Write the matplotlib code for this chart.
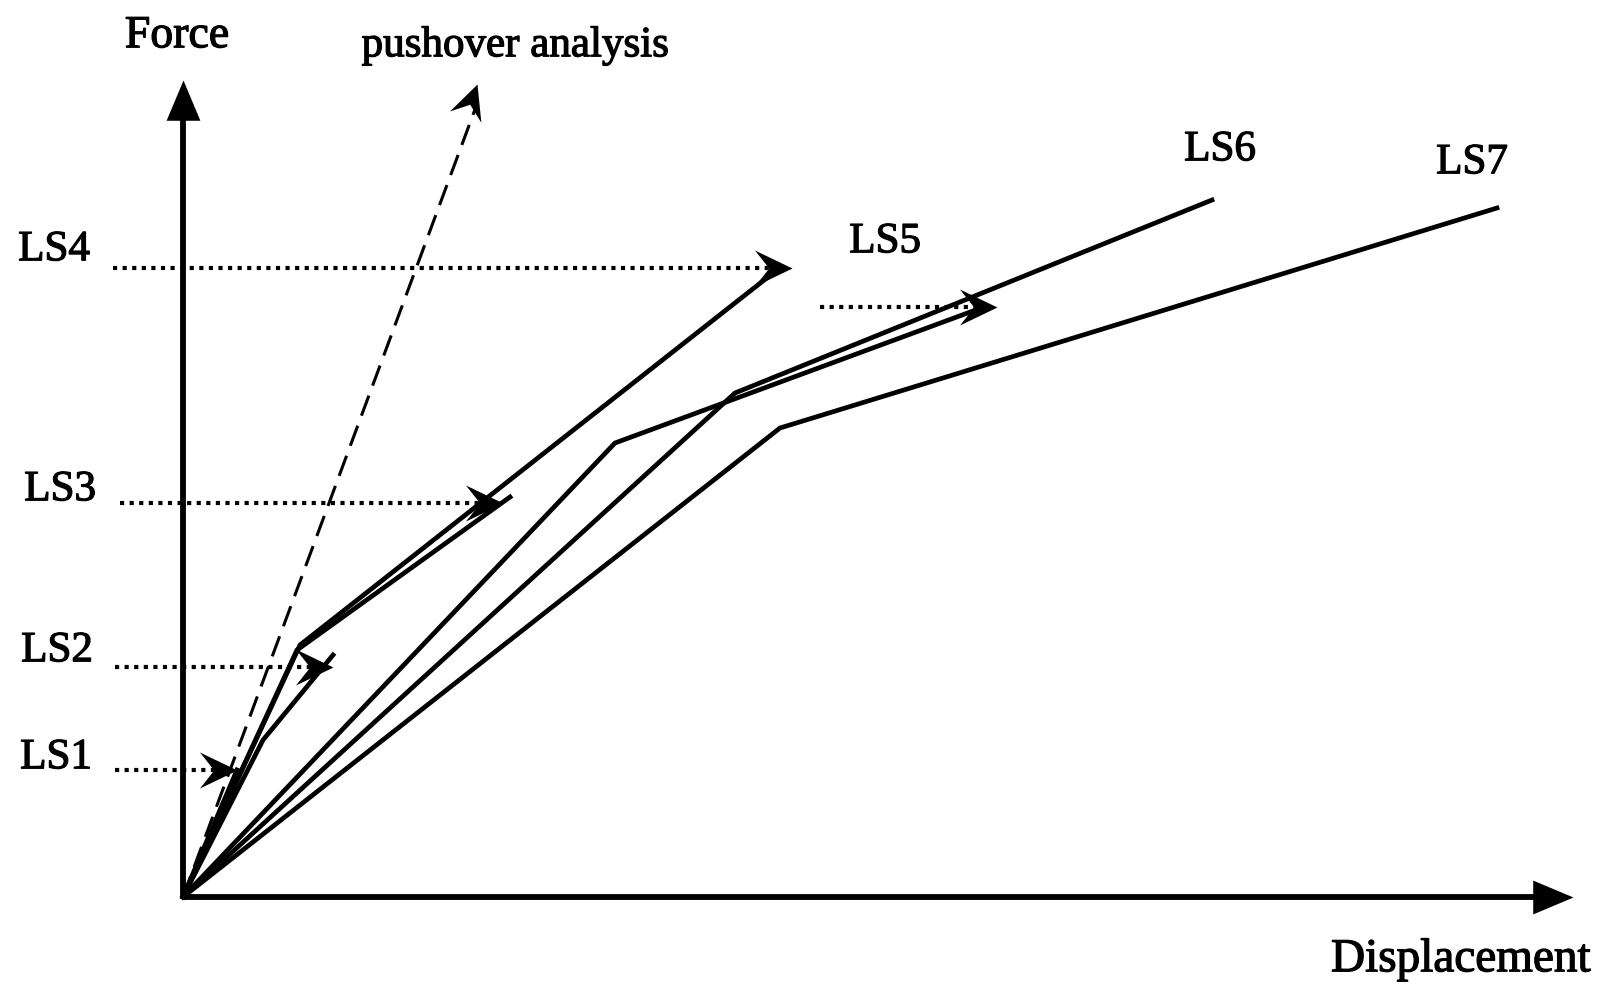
import numpy as np
import matplotlib
matplotlib.use("Agg")
import matplotlib.pyplot as plt
import matplotlib.patheffects as pe
from matplotlib.path import Path
from matplotlib.markers import MarkerStyle
from matplotlib.transforms import Affine2D

plt.rcParams['font.family'] = ['Liberation Serif', 'DejaVu Serif']

# curves (displacement, force) (1 unit ~ 1 px)
ls1_d = [0, 54]
ls1_f = [0, 127]
ls2_d = [0, 80, 150]
ls2_f = [0, 157, 242]
ls3_d = [0, 114, 327]
ls3_f = [0, 247, 400]
ls4_d = [0, 117, 585]
ls4_f = [0, 252, 620]
ls5_d = [0, 432, 790]
ls5_f = [0, 454, 586]
ls6_d = [0, 552, 1029]
ls6_f = [0, 504, 697]
ls7_d = [0, 597, 1314]
ls7_f = [0, 469, 689]
push_d = [0, 294]
push_f = [0, 813]

# limit state levels (dotted arrows)
ls_names = ["LS1", "LS2", "LS3", "LS4", "LS5"]
lvl_force = [127, 230, 394, 629, 590]
lvl_start = [-68, -68, -63, -70, 637]
lvl_tip = [54, 150, 320, 609, 814]

axis_x_max = 1390
axis_y_max = 817

# stealth arrow head, tip at origin, pointing +x
stealth = Path([(0, 0), (-1, 0.48), (-0.62, 0), (-1, -0.48), (0, 0)],
               [Path.MOVETO, Path.LINETO, Path.LINETO, Path.LINETO, Path.CLOSEPOLY])
tri = Path([(0, 0), (-1, 0.42), (-1, -0.42), (0, 0)],
           [Path.MOVETO, Path.LINETO, Path.LINETO, Path.CLOSEPOLY])


def head(ax, x, y, ang, path=stealth, ms=54):
    m = MarkerStyle(path, transform=Affine2D().rotate_deg(ang))
    ax.plot([x], [y], marker=m, ms=ms, color='black', mec='black', mew=0, ls='none')


fig = plt.figure(figsize=(16.02, 9.86), dpi=100)
ax = fig.add_axes([0, 0, 1, 1])
ax.set_xlim(-183, 1419)
ax.set_ylim(-89, 897)
ax.axis('off')

# axes with arrows
ax.plot([0, axis_x_max - 30], [0, 0], color='black', lw=4.2, solid_capstyle='butt')
ax.plot([0, 0], [0, axis_y_max - 30], color='black', lw=4.2, solid_capstyle='butt')
head(ax, axis_x_max, 0, 0, tri, 58)
head(ax, 0, axis_y_max, 90, tri, 58)

# curves
for d, f in [(ls1_d, ls1_f), (ls2_d, ls2_f), (ls3_d, ls3_f), (ls4_d, ls4_f),
             (ls5_d, ls5_f), (ls6_d, ls6_f), (ls7_d, ls7_f)]:
    ax.plot(d, f, color='black', lw=3.4, solid_joinstyle='miter')

# pushover analysis (dashed)
ax.plot(push_d, [push_f[0], push_f[1] - 20], color='black', lw=2.2, ls=(0, (7, 3.5)))
ang = np.degrees(np.arctan2(push_f[1] - push_f[0], push_d[1] - push_d[0]))
head(ax, push_d[1], push_f[1], ang, stealth, 50)

# dotted limit-state levels with arrow heads
for f, x0, x1 in zip(lvl_force, lvl_start, lvl_tip):
    ax.plot([x0, x1 - 20], [f, f], color='black', lw=3.0, ls=(0, (1, 1.3)))
    head(ax, x1, f, 0, stealth, 54)

# labels
fx = [pe.withStroke(linewidth=0.9, foreground='black')]
fs = 31
kw = dict(ha='center', va='center', path_effects=fx)
ax.text(-6, 861, "Force", fontsize=33, **kw)
ax.text(332, 851, "pushover analysis", fontsize=31, **kw)
ax.text(-129, 647, "LS4", fontsize=fs, **kw)
ax.text(-123, 407, "LS3", fontsize=fs, **kw)
ax.text(-126, 246, "LS2", fontsize=fs, **kw)
ax.text(-127, 139, "LS1", fontsize=fs, **kw)
ax.text(702, 655, "LS5", fontsize=fs, **kw)
ax.text(1037, 747, "LS6", fontsize=fs, **kw)
ax.text(1289, 734, "LS7", fontsize=fs, **kw)
ax.text(1278, -63, "Displacement", fontsize=34, **kw)

fig.savefig("out.png", dpi=100)
